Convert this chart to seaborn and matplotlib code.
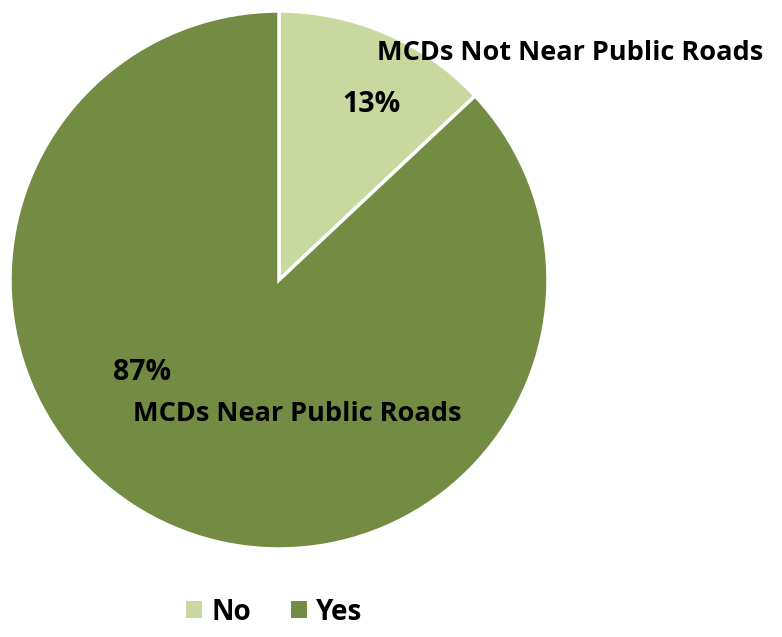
import matplotlib
matplotlib.use("Agg")
import matplotlib.pyplot as plt
import seaborn as sns
from matplotlib.patches import Patch

sns.set_theme(style="white")
plt.rcParams['font.family'] = ['Open Sans', 'DejaVu Sans']

categories = ["No", "Yes"]
values = [13, 87]
pct_labels = ["13%", "87%"]
slice_names = ["MCDs Not Near Public Roads", "MCDs Near Public Roads"]
colors = ["#C8D89E", "#738B42"]

W, H = 782, 637
fig = plt.figure(figsize=(W / 100, H / 100), dpi=100)
cx, cy, r = 279, 280, 269
ax = fig.add_axes([(cx - r) / W, (H - cy - r) / H, 2 * r / W, 2 * r / H])
ax.pie(values, colors=colors, startangle=90, counterclock=False,
       wedgeprops=dict(edgecolor="white", linewidth=2.5), radius=1)
ax.set_xlim(-1, 1)
ax.set_ylim(-1, 1)
ax.set_aspect("equal")
ax.axis("off")

def ftext(x, y, s, **kw):
    fig.text(x / W, 1 - y / H, s, ha="center", va="center",
             fontweight="bold", color="black", **kw)

fs = 19.5
fp = 20.5
ftext(570, 53, slice_names[0], fontsize=fs)
ftext(371, 105, pct_labels[0], fontsize=fp)
ftext(142, 373, pct_labels[1], fontsize=fp)
ftext(297, 414, slice_names[1], fontsize=fs)

handles = [Patch(facecolor=c, edgecolor="none") for c in colors]
leg = fig.legend(handles, categories, loc="center", bbox_to_anchor=(274.5 / W, 1 - 612 / H),
                 ncol=2, frameon=False, handlelength=0.55, handleheight=0.55,
                 handletextpad=0.35, columnspacing=1.45, labelcolor="black",
                 borderpad=0, borderaxespad=0,
                 prop=dict(family=['Open Sans', 'DejaVu Sans'], weight="bold", size=20))

fig.savefig("out.png", dpi=100, facecolor="white")
